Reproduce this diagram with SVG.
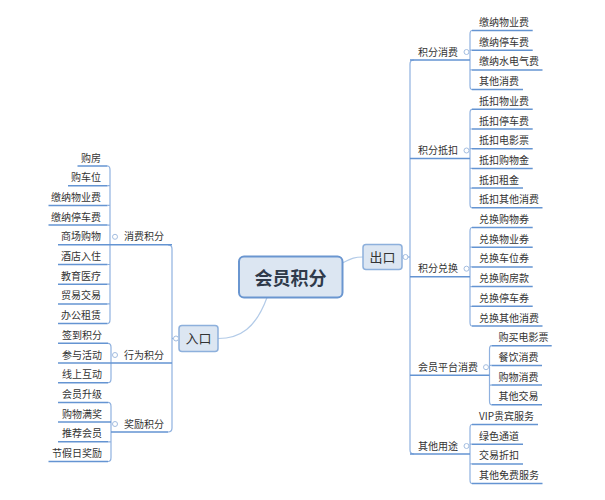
<svg xmlns="http://www.w3.org/2000/svg" width="605" height="500" viewBox="0 0 605 500">
<style>
text{font-family:"Noto Sans CJK SC","Liberation Sans",sans-serif;fill:#333;font-size:10px}
.ul{stroke:#6494d2;stroke-width:1.5;fill:none}
.br{stroke:#8fb1df;stroke-width:1.2;fill:none}
.lk{stroke:#b3cbe8;stroke-width:1.2;fill:none}
.dot{fill:#fff;stroke:#a3bde0;stroke-width:1}
.l{text-anchor:end}
</style>
<rect width="605" height="500" fill="#fff"/>
<g id="connectors">
<path class="lk" d="M342.5,263 C352,258 355,257 363,257"/>
<path class="lk" d="M267,297.5 C256,328 240,338.5 218,338.5"/>
<path class="br" d="M402,257 L410,257"/>
<path class="br" d="M172,338.5 L179,338.5"/>
<path class="br" d="M414,60 Q410,60 410,64 L410,450 Q410,454 414,454"/>
<path class="br" d="M168,244.8 Q172,244.8 172,248.8 L172,428 Q172,432 168,432"/>
<path class="br" d="M472,30.5 Q470,30.5 470,34.5 L470,85.6 Q470,89.6 472,89.6 M470,50.2 L472,50.2 M470,69.9 L472,69.9"/>
<path class="br" d="M472,109.3 Q470,109.3 470,113.3 L470,203.8 Q470,207.8 472,207.8 M470,129 L472,129 M470,148.7 L472,148.7 M470,168.4 L472,168.4 M470,188.1 L472,188.1"/>
<path class="br" d="M472,227.5 Q470,227.5 470,231.5 L470,322 Q470,326 472,326 M470,247.2 L472,247.2 M470,266.9 L472,266.9 M470,286.6 L472,286.6 M470,306.3 L472,306.3"/>
<path class="br" d="M491.5,345.7 Q489.5,345.7 489.5,349.7 L489.5,400.8 Q489.5,404.8 491.5,404.8 M489.5,365.4 L491.5,365.4 M489.5,385.1 L491.5,385.1"/>
<path class="br" d="M472,424.5 Q470,424.5 470,428.5 L470,479.6 Q470,483.6 472,483.6 M470,444.2 L472,444.2 M470,463.9 L472,463.9"/>
<path class="br" d="M107.5,166 Q110,166 110,170 L110,319.6 Q110,323.6 107.5,323.6 M110,185.7 L107.5,185.7 M110,205.4 L107.5,205.4 M110,225.1 L107.5,225.1 M110,264.5 L107.5,264.5 M110,284.2 L107.5,284.2 M110,303.9 L107.5,303.9"/>
<path class="br" d="M108,343.3 Q111,343.3 111,347.3 L111,378.7 Q111,382.7 108,382.7"/>
<path class="br" d="M108,402.4 Q111,402.4 111,406.4 L111,457.5 Q111,461.5 108,461.5 M111,441.8 L108,441.8"/>
<path class="ul" d="M410,60 L470 60 M410,158.5 L470,158.5 M410,276.7 L470,276.7 M410,375.2 L489.5,375.2 M410,454 L470,454"/>
<path class="ul" d="M110,244.8 L172,244.8 M111,363 L172,363 M111,432 L168,432"/>
</g>
<g id="center"><rect x="239" y="256.5" width="103.5" height="41" rx="5" fill="#dce6f2" stroke="#6a96d0" stroke-width="2"/><text x="290.5" y="285" text-anchor="middle" style="font-size:18px;font-weight:bold;fill:#2f3a4a">会员积分</text></g>
<g id="out"><rect x="363" y="244.5" width="39" height="25" rx="3" fill="#dce6f2" stroke="#8db0dc" stroke-width="1.5"/><text x="382.5" y="261.7" text-anchor="middle" style="font-size:13px">出口</text><circle class="dot" cx="405.5" cy="257" r="2.5"/></g>
<g id="in"><rect x="179" y="325.5" width="39" height="26" rx="3" fill="#dce6f2" stroke="#8db0dc" stroke-width="1.5"/><text x="198.5" y="343.3" text-anchor="middle" style="font-size:13px">入口</text><circle class="dot" cx="176" cy="338.5" r="2.5"/></g>
<g id="b-r1"><text x="418" y="55.5">积分消费</text><circle class="dot" cx="466.5" cy="52" r="2.5"/></g>
<g id="b-r2"><text x="418" y="154">积分抵扣</text><circle class="dot" cx="466.5" cy="150.5" r="2.5"/></g>
<g id="b-r3"><text x="418" y="272.2">积分兑换</text><circle class="dot" cx="466.5" cy="268.7" r="2.5"/></g>
<g id="b-r4"><text x="418" y="370.7">会员平台消费</text><circle class="dot" cx="486" cy="367.2" r="2.5"/></g>
<g id="b-r5"><text x="418" y="449.5">其他用途</text><circle class="dot" cx="466.5" cy="446" r="2.5"/></g>
<g id="b-l1"><text x="124" y="240.3">消费积分</text><circle class="dot" cx="115" cy="236.8" r="2.5"/></g>
<g id="b-l2"><text x="124" y="358.5">行为积分</text><circle class="dot" cx="115" cy="355" r="2.5"/></g>
<g id="b-l3"><text x="124" y="427.5">奖励积分</text><circle class="dot" cx="115" cy="424" r="2.5"/></g>
<g id="leaves-right">
<g id="r0"><text x="479" y="26">缴纳物业费</text><path class="ul" d="M472,30.5H532.7"/></g>
<g id="r1"><text x="479" y="45.7">缴纳停车费</text><path class="ul" d="M472,50.2H532.7"/></g>
<g id="r2"><text x="479" y="65.4">缴纳水电气费</text><path class="ul" d="M472,69.9H542.5"/></g>
<g id="r3"><text x="479" y="85.1">其他消费</text><path class="ul" d="M472,89.6H523"/></g>
<g id="r4"><text x="479" y="104.8">抵扣物业费</text><path class="ul" d="M472,109.3H532.7"/></g>
<g id="r5"><text x="479" y="124.5">抵扣停车费</text><path class="ul" d="M472,129H532.7"/></g>
<g id="r6"><text x="479" y="144.2">抵扣电影票</text><path class="ul" d="M472,148.7H532.7"/></g>
<g id="r7"><text x="479" y="163.9">抵扣购物金</text><path class="ul" d="M472,168.4H532.7"/></g>
<g id="r8"><text x="479" y="183.6">抵扣租金</text><path class="ul" d="M472,188.1H523"/></g>
<g id="r9"><text x="479" y="203.3">抵扣其他消费</text><path class="ul" d="M472,207.8H542.5"/></g>
<g id="r10"><text x="479" y="223">兑换购物券</text><path class="ul" d="M472,227.5H532.7"/></g>
<g id="r11"><text x="479" y="242.7">兑换物业券</text><path class="ul" d="M472,247.2H532.7"/></g>
<g id="r12"><text x="479" y="262.4">兑换车位券</text><path class="ul" d="M472,266.9H532.7"/></g>
<g id="r13"><text x="479" y="282.1">兑换购房款</text><path class="ul" d="M472,286.6H532.7"/></g>
<g id="r14"><text x="479" y="301.8">兑换停车券</text><path class="ul" d="M472,306.3H532.7"/></g>
<g id="r15"><text x="479" y="321.5">兑换其他消费</text><path class="ul" d="M472,326H542.5"/></g>
<g id="r16"><text x="498.5" y="341.2">购买电影票</text><path class="ul" d="M491.5,345.7H551.7"/></g>
<g id="r17"><text x="498.5" y="360.9">餐饮消费</text><path class="ul" d="M491.5,365.4H542"/></g>
<g id="r18"><text x="498.5" y="380.6">购物消费</text><path class="ul" d="M491.5,385.1H542"/></g>
<g id="r19"><text x="498.5" y="400.3">其他交易</text><path class="ul" d="M491.5,404.8H542"/></g>
<g id="r20"><text x="479" y="420">VIP贵宾服务</text><path class="ul" d="M472,424.5H538"/></g>
<g id="r21"><text x="479" y="439.7">绿色通道</text><path class="ul" d="M472,444.2H523"/></g>
<g id="r22"><text x="479" y="459.4">交易折扣</text><path class="ul" d="M472,463.9H523"/></g>
<g id="r23"><text x="479" y="479.1">其他免费服务</text><path class="ul" d="M472,483.6H542.5"/></g>
</g>
<g id="leaves-left">
<g id="l0"><text class="l" x="101" y="161.5">购房</text><path class="ul" d="M77.5,166H107.5"/></g>
<g id="l1"><text class="l" x="101" y="181.2">购车位</text><path class="ul" d="M68,185.7H107.5"/></g>
<g id="l2"><text class="l" x="101" y="200.9">缴纳物业费</text><path class="ul" d="M48.5,205.4H107.5"/></g>
<g id="l3"><text class="l" x="101" y="220.6">缴纳停车费</text><path class="ul" d="M48.5,225.1H107.5"/></g>
<g id="l4"><text class="l" x="101" y="240.3">商场购物</text><path class="ul" d="M58,244.8H110"/></g>
<g id="l5"><text class="l" x="101" y="260">酒店入住</text><path class="ul" d="M58,264.5H107.5"/></g>
<g id="l6"><text class="l" x="101" y="279.7">教育医疗</text><path class="ul" d="M58,284.2H107.5"/></g>
<g id="l7"><text class="l" x="101" y="299.4">贸易交易</text><path class="ul" d="M58,303.9H107.5"/></g>
<g id="l8"><text class="l" x="101" y="319.1">办公租赁</text><path class="ul" d="M58,323.6H107.5"/></g>
<g id="l9"><text class="l" x="102" y="338.8">签到积分</text><path class="ul" d="M58,343.3H108"/></g>
<g id="l10"><text class="l" x="102" y="358.5">参与活动</text><path class="ul" d="M58,363H111"/></g>
<g id="l11"><text class="l" x="102" y="378.2">线上互动</text><path class="ul" d="M58,382.7H108"/></g>
<g id="l12"><text class="l" x="102" y="397.9">会员升级</text><path class="ul" d="M58,402.4H108"/></g>
<g id="l13"><text class="l" x="102" y="417.6">购物满奖</text><path class="ul" d="M58,422.1H111"/></g>
<g id="l14"><text class="l" x="102" y="437.3">推荐会员</text><path class="ul" d="M58,441.8H108"/></g>
<g id="l15"><text class="l" x="102" y="457">节假日奖励</text><path class="ul" d="M48.5,461.5H108"/></g>
</g>
</svg>
